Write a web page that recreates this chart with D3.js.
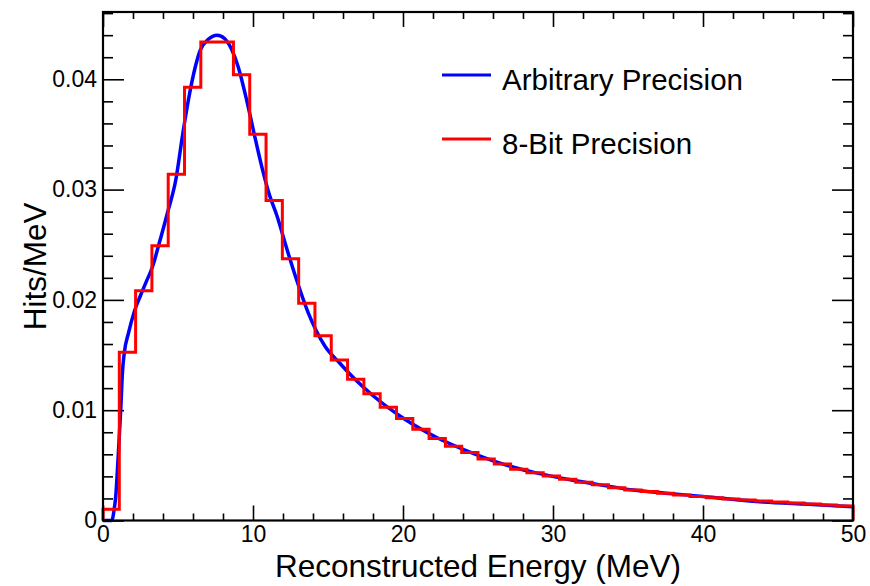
<!DOCTYPE html>
<html>
<head>
<meta charset="utf-8">
<script src="https://cdn.jsdelivr.net/npm/d3@7/dist/d3.min.js"></script>
<style>
  html, body { margin: 0; padding: 0; background: #fff; }
  svg { display: block; font-family: "Liberation Sans", Arial, sans-serif; }
</style>
</head>
<body>
<svg id="chart" width="870" height="586"></svg>
<script>
// ---- data ----
const xTicks = [0, 10, 20, 30, 40, 50];
const yTicks = [0, 0.01, 0.02, 0.03, 0.04];
const binCount = 46;            // 46 equal bins over 0-50 MeV
const histLow = 0, histHigh = 50;
// 8-bit precision histogram (Hits/MeV per bin)
const histValues = [
  0.00102, 0.01526, 0.02084, 0.02490, 0.03140, 0.03928, 0.04339, 0.04339,
  0.04040, 0.03502, 0.02900, 0.02372, 0.01970, 0.01674, 0.01455, 0.01281,
  0.01148, 0.01027, 0.00924, 0.00828, 0.00744, 0.00674, 0.00616, 0.00558,
  0.00513, 0.00465, 0.00434, 0.00404, 0.00374, 0.00347, 0.00323, 0.00298,
  0.00277, 0.00262, 0.00248, 0.00232, 0.00218, 0.00207, 0.00196, 0.00186,
  0.00177, 0.00167, 0.00158, 0.00149, 0.00140, 0.00131
];
// arbitrary precision curve
const curveE = [0, 0.6, 0.72, 0.85, 1.0, 1.18, 1.3, 1.42, 1.7, 2.1, 2.5, 2.9, 3.3,
  3.7, 4.3, 4.87, 5.31, 5.69, 6.13, 6.47, 7.0, 7.62, 8.1, 8.58, 9.02, 9.58,
  10.07, 10.58, 11.1, 11.58, 12.24, 12.91, 13.69, 14.8, 15.76, 16.8, 17.93,
  20.1, 22.28, 24.46, 26.63, 28.8, 30.98, 33.15, 35.33, 37.5, 40, 44, 47, 50];
const curveV = [0, 0, 0.0008, 0.0022, 0.0055, 0.0100, 0.0135, 0.0152, 0.0170,
  0.0190, 0.0204, 0.0217, 0.0230, 0.0249, 0.0279, 0.0310, 0.0350, 0.0381,
  0.0410, 0.0426, 0.0436, 0.0440, 0.0437, 0.0427, 0.0411, 0.0381, 0.0351,
  0.0321, 0.0295, 0.0277, 0.0247, 0.0218, 0.0188, 0.0158, 0.0143, 0.0128,
  0.0114, 0.0092, 0.0075, 0.0062, 0.00513, 0.00434, 0.00374, 0.00323,
  0.00277, 0.00248, 0.00218, 0.00168, 0.00147, 0.00125];
const seriesNames = ["Arbitrary Precision", "8-Bit Precision"];
const seriesColors = ["#0000ff", "#ff0000"];

// ---- layout ----
const L = 103, R = 853, T = 12, B = 520.5;
const svg = d3.select("#chart");
const x = d3.scaleLinear().domain([0, 50]).range([L, R]);
const y = d3.scaleLinear().domain([0, 0.0461]).range([B, T]);

const xMinor = d3.range(0, 50.001, 2).filter(v => !xTicks.includes(v));
const yMinor = d3.range(0, 0.0461, 0.002).filter(v => !yTicks.some(t => Math.abs(t - v) < 1e-9));

const fontTick = 23, fontTitle = 31.5, fontLegend = 29.5;

function styleAxis(g) {
  g.select(".domain").remove();
  g.selectAll(".tick line").attr("stroke", "#000").attr("stroke-width", 1.6);
  g.selectAll(".tick text").attr("fill", "#000").attr("font-size", fontTick)
    .attr("font-family", '"Liberation Sans", Arial, sans-serif');
}

// bottom axis
svg.append("g").attr("transform", `translate(0,${B})`)
  .call(d3.axisBottom(x).tickValues(xTicks).tickSize(-15).tickPadding(5.5).tickFormat(d3.format("d")))
  .call(styleAxis);
svg.append("g").attr("transform", `translate(0,${B})`)
  .call(d3.axisBottom(x).tickValues(xMinor).tickSize(-7).tickFormat(""))
  .call(styleAxis);
// top axis
svg.append("g").attr("transform", `translate(0,${T})`)
  .call(d3.axisTop(x).tickValues(xTicks).tickSize(-15).tickFormat(""))
  .call(styleAxis);
svg.append("g").attr("transform", `translate(0,${T})`)
  .call(d3.axisTop(x).tickValues(xMinor).tickSize(-7).tickFormat(""))
  .call(styleAxis);
// left axis
svg.append("g").attr("transform", `translate(${L},0)`)
  .call(d3.axisLeft(y).tickValues(yTicks).tickSize(-21).tickPadding(6)
    .tickFormat(v => v === 0 ? "0" : d3.format(".2f")(v)))
  .call(styleAxis);
svg.append("g").attr("transform", `translate(${L},0)`)
  .call(d3.axisLeft(y).tickValues(yMinor).tickSize(-10).tickFormat(""))
  .call(styleAxis);
// right axis
svg.append("g").attr("transform", `translate(${R},0)`)
  .call(d3.axisRight(y).tickValues(yTicks).tickSize(-21).tickFormat(""))
  .call(styleAxis);
svg.append("g").attr("transform", `translate(${R},0)`)
  .call(d3.axisRight(y).tickValues(yMinor).tickSize(-10).tickFormat(""))
  .call(styleAxis);

// curve (blue)
const line = d3.line().x((d, i) => x(curveE[i])).y(d => y(d)).curve(d3.curveMonotoneX);
svg.append("path").datum(curveV)
  .attr("d", line)
  .attr("fill", "none").attr("stroke", seriesColors[0]).attr("stroke-width", 3.5)
  .attr("stroke-linejoin", "round");

// histogram (red step outline)
const bw = (histHigh - histLow) / binCount;
const pts = [[x(histLow), y(0)]];
histValues.forEach((v, i) => {
  pts.push([x(histLow + i * bw), y(v)]);
  pts.push([x(histLow + (i + 1) * bw), y(v)]);
});
pts.push([x(histHigh), y(0)]);
svg.append("path")
  .attr("d", d3.line()(pts))
  .attr("fill", "none").attr("stroke", seriesColors[1]).attr("stroke-width", 3)
  .attr("stroke-linejoin", "miter");

// frame
svg.append("rect").attr("x", L).attr("y", T).attr("width", R - L).attr("height", B - T)
  .attr("fill", "none").attr("stroke", "#000").attr("stroke-width", 2.2);

// titles
svg.append("text").attr("x", (L + R) / 2).attr("y", 577).attr("text-anchor", "middle")
  .attr("font-size", fontTitle).attr("fill", "#000").text("Reconstructed Energy (MeV)");
svg.append("text").attr("transform", `translate(46,${(T + B) / 2}) rotate(-90)`)
  .attr("text-anchor", "middle").attr("font-size", fontTitle).attr("fill", "#000").text("Hits/MeV");

// legend
const legY = [75, 139];
seriesNames.forEach((name, i) => {
  svg.append("line").attr("x1", 442).attr("x2", 491).attr("y1", legY[i]).attr("y2", legY[i])
    .attr("stroke", seriesColors[i]).attr("stroke-width", 3);
  svg.append("text").attr("x", 502).attr("y", legY[i] + 15).attr("font-size", fontLegend)
    .attr("fill", "#000").text(name);
});
</script>
</body>
</html>
